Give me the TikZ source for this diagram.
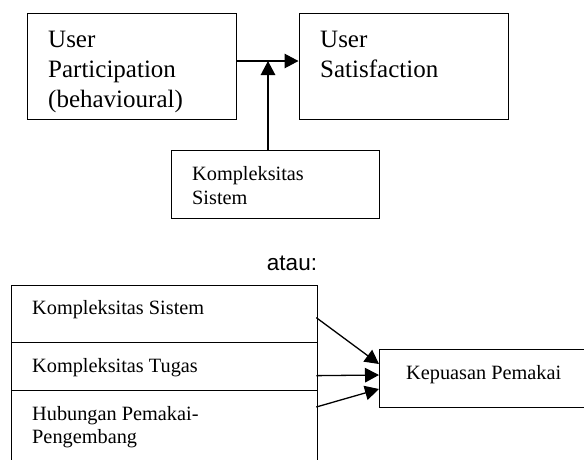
\documentclass[tikz,border=0pt]{standalone}
\usepackage{fontspec}
\setmainfont{Liberation Serif}
\newfontfamily\sansf{Liberation Sans}
\usetikzlibrary{arrows.meta,calc}
\tikzset{
  box/.style={draw=black, line width=1.3pt, rectangle, inner sep=0pt, anchor=north west},
  big/.style={inner sep=0pt, anchor=base west, align=left, font=\fontsize{25}{30}\selectfont},
  small/.style={inner sep=0pt, anchor=base west, align=left, font=\fontsize{20.3}{24}\selectfont},
  arr/.style={line width=1.3pt, -{Triangle[length=14pt,width=14.5pt]}}
}
\begin{document}
\begin{tikzpicture}[x=1pt,y=-1pt]
\useasboundingbox (0,0) rectangle (584,459);
\clip (0,0) rectangle (584,459);
% top part
\node[box, minimum width=209pt, minimum height=106pt] (b1) at (27,13) {};
\node[box, minimum width=209pt, minimum height=106pt] (b2) at (298.5,13) {};
\node[box, minimum width=208pt, minimum height=68pt] (b3) at (171,150) {};
\node[big] (t1) at (48,107) {User\\Participation\\(behavioural)};
\node[big] (t2) at (320,77) {User\\Satisfaction};
\node[small] (t3) at (192,204) {Kompleksitas\\Sistem};
\coordinate (j) at (268,61);
\draw[arr] (b1.east |- j) -- (b2.west |- j);
\draw[arr] (b3.north -| j) -- (j);
% separator text
\node[inner sep=0pt, anchor=base, font=\sansf\fontsize{22.5}{27}\selectfont] (atau) at (292,270) {atau:};
% bottom part
\node[box, minimum width=306pt, minimum height=57pt] (r1) at (11,285) {};
\node[box, minimum width=306pt, minimum height=48pt] (r2) at (11,342) {};
\node[box, minimum width=306pt, minimum height=80pt] (r3) at (11,390) {};
\node[box, minimum width=220pt, minimum height=58pt] (kp) at (379,349) {};
\node[small] (s1t) at (32,314) {Kompleksitas Sistem};
\node[small] (s2t) at (32,372) {Kompleksitas Tugas};
\node[small, font=\fontsize{20.3}{23}\selectfont] (s3t) at (32,443) {Hubungan Pemakai-\\Pengembang};
\node[small] (kpt) at (406,379) {Kepuasan Pemakai};
\coordinate (a1) at ($(r1.east)+(-2,3.5)$);
\coordinate (a2) at ($(r2.east)+(-2,9)$);
\coordinate (a3) at ($(r3.north east)+(-2,17)$);
\draw[arr] (a1) -- ($(kp.north west)+(0,15)$);
\draw[arr] (a2) -- ($(kp.north west)+(0,26)$);
\draw[arr] (a3) -- ($(kp.north west)+(0,40)$);
\end{tikzpicture}
\end{document}
